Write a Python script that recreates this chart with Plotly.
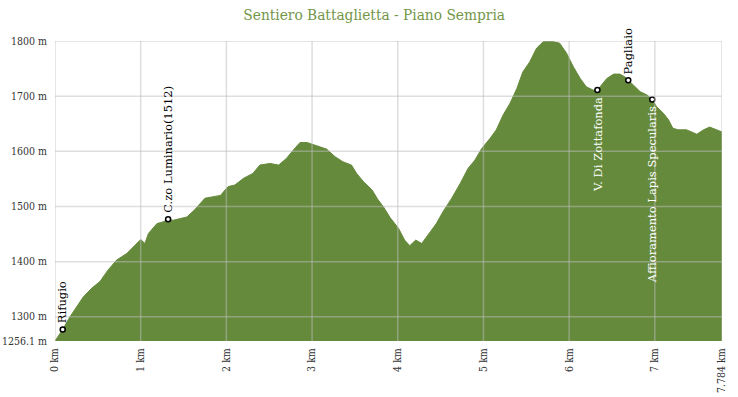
import plotly.graph_objects as go

dist_km = [0.00, 0.09, 0.175, 0.33, 0.43, 0.525, 0.62, 0.72, 0.84, 0.93, 1.00, 1.05, 1.09, 1.19, 1.26,
           1.32, 1.38, 1.54, 1.63, 1.75, 1.93, 2.02, 2.10, 2.20, 2.31, 2.39, 2.51, 2.61, 2.70, 2.78,
           2.86, 2.94, 3.05, 3.17, 3.27, 3.36, 3.46, 3.52, 3.60, 3.70, 3.77, 3.83, 3.91, 4.01, 4.08,
           4.14, 4.21, 4.28, 4.38, 4.45, 4.53, 4.63, 4.73, 4.82, 4.90, 4.98, 5.08, 5.15, 5.23, 5.31,
           5.39, 5.46, 5.54, 5.62, 5.70, 5.81, 5.89, 5.97, 6.05, 6.13, 6.20, 6.28, 6.33, 6.38, 6.44,
           6.52, 6.59, 6.65, 6.69, 6.75, 6.83, 6.91, 6.97, 7.02, 7.10, 7.16, 7.21, 7.27, 7.37, 7.49,
           7.57, 7.64, 7.72, 7.784]
elev_m = [1256.1, 1277, 1300, 1336, 1352, 1364, 1385, 1403, 1415, 1430, 1440, 1433, 1451, 1469, 1472,
          1477, 1475, 1481, 1494, 1515, 1520, 1536, 1539, 1551, 1560, 1575, 1578, 1575, 1587, 1602,
          1616, 1616, 1610, 1604, 1590, 1581, 1575, 1560, 1545, 1530, 1512, 1500, 1480, 1460, 1439,
          1429, 1439, 1433, 1454, 1469, 1491, 1515, 1542, 1569, 1584, 1605, 1624, 1639, 1666, 1687,
          1714, 1744, 1762, 1787, 1799, 1799, 1796, 1778, 1753, 1732, 1717, 1711, 1711, 1720, 1732,
          1740, 1740, 1735, 1729, 1720, 1708, 1702, 1694, 1681, 1669, 1657, 1642, 1639, 1639, 1631,
          1639, 1644, 1639, 1635]

# Waypoints
poi_names = ["Rifugio", "C.zo Luminario(1512)", "V. Di Zottafonda", "Pagliaio",
             "Affioramento Lapis Specularis"]
poi_km = [0.09, 1.32, 6.33, 6.69, 6.97]
poi_m = [1277, 1477, 1711, 1729, 1694]
poi_below = [False, False, True, False, True]

# Axis ticks
x_tickvals = [0, 1, 2, 3, 4, 5, 6, 7, 7.784]
x_ticktext = ["0 km", "1 km", "2 km", "3 km", "4 km", "5 km", "6 km", "7 km", "7.784 km"]
y_tickvals = [1256.1, 1300, 1400, 1500, 1600, 1700, 1800]
y_ticktext = ["1256.1 m", "1300 m", "1400 m", "1500 m", "1600 m", "1700 m", "1800 m"]

FONT = "DejaVu Serif"
TICKFONT = "DejaVu Serif Condensed"
GREEN = "#658a3c"
GRID = "rgba(190,190,190,0.5)"

fig = go.Figure()
fig.add_trace(go.Scatter(x=dist_km, y=elev_m, mode="lines", fill="tozeroy",
                         fillcolor=GREEN, line=dict(color=GREEN, width=1),
                         hoverinfo="skip", showlegend=False))
fig.add_trace(go.Scatter(x=poi_km, y=poi_m, mode="markers",
                         marker=dict(size=5, color="white", line=dict(color="black", width=1.5)),
                         hoverinfo="skip", showlegend=False))

for name, xk, ym, below in zip(poi_names, poi_km, poi_m, poi_below):
    fig.add_annotation(x=xk, y=ym, text=name, showarrow=False, textangle=-90,
                       xanchor="center", yanchor="top" if below else "bottom",
                       yshift=-5 if below else 4,
                       font=dict(family=FONT, size=11.5, color="white" if below else "black"))

shapes = []
for xv in x_tickvals:
    shapes.append(dict(type="line", xref="x", yref="paper", x0=xv, x1=xv, y0=0, y1=1,
                       line=dict(color=GRID, width=1.5), layer="above"))
for yv in y_tickvals[1:]:
    shapes.append(dict(type="line", xref="paper", yref="y", x0=0, x1=1, y0=yv, y1=yv,
                       line=dict(color=GRID, width=1.5), layer="above"))

fig.update_layout(
    width=738, height=397,
    margin=dict(l=55, r=16, t=41, b=56, autoexpand=False),
    paper_bgcolor="white", plot_bgcolor="white",
    title=dict(text="Sentiero Battaglietta - Piano Sempria", x=0.507, xanchor="center",
               xref="container", y=0.962, yanchor="middle",
               font=dict(family="DejaVu Serif Condensed", size=15.3, color="#739649")),
    shapes=shapes,
    xaxis=dict(range=[0, 7.784], tickvals=x_tickvals, ticktext=x_ticktext, tickangle=-90,
               showgrid=False, zeroline=False, showline=False, automargin=False,
               ticks="outside", ticklen=2, tickcolor="rgba(0,0,0,0)",
               tickfont=dict(family=TICKFONT, size=10.5, color="#333")),
    yaxis=dict(range=[1256.1, 1800], tickvals=y_tickvals, ticktext=y_ticktext,
               showgrid=False, zeroline=False, showline=False, automargin=False,
               ticks="outside", ticklen=5, tickcolor="rgba(0,0,0,0)",
               tickfont=dict(family=TICKFONT, size=10.5, color="#333")),
)

fig.write_html("out.html", config={"displayModeBar": False},
               post_script="document.body.style.margin='0';")
